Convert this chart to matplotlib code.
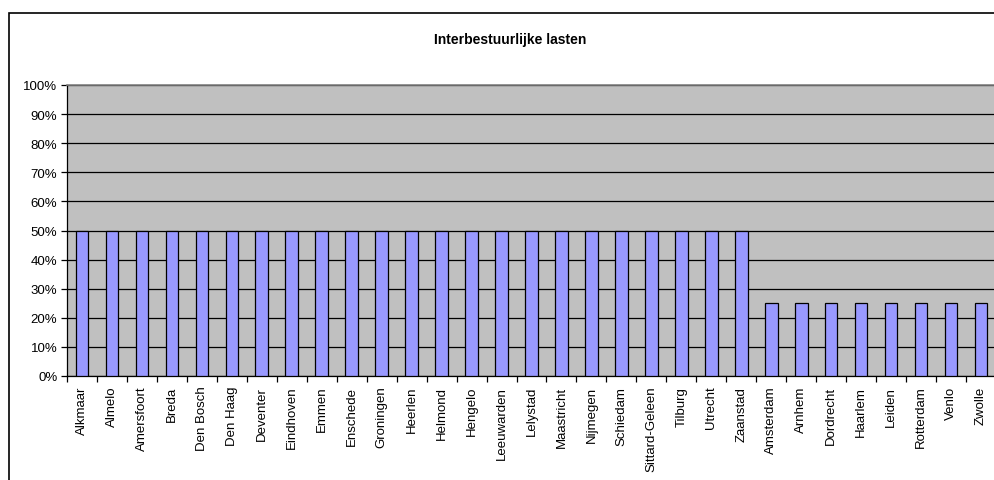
import numpy as np
import matplotlib
matplotlib.use('Agg')
import matplotlib.pyplot as plt
from matplotlib.patches import Rectangle
from matplotlib.ticker import PercentFormatter, FixedLocator

plt.rcParams['font.family'] = ['Liberation Sans', 'DejaVu Sans']

# Data
gemeenten = ['Alkmaar', 'Almelo', 'Amersfoort', 'Breda', 'Den Bosch', 'Den Haag',
             'Deventer', 'Eindhoven', 'Emmen', 'Enschede', 'Groningen', 'Heerlen',
             'Helmond', 'Hengelo', 'Leeuwarden', 'Lelystad', 'Maastricht', 'Nijmegen',
             'Schiedam', 'Sittard-Geleen', 'Tilburg', 'Utrecht', 'Zaanstad',
             'Amsterdam', 'Arnhem', 'Dordrecht', 'Haarlem', 'Leiden', 'Rotterdam',
             'Venlo', 'Zwolle']
aandeel = [0.50] * 23 + [0.25] * 8
y_ticks = [0.0, 0.1, 0.2, 0.3, 0.4, 0.5, 0.6, 0.7, 0.8, 0.9, 1.0]

W, H = 995, 481
fig = plt.figure(figsize=(W / 100, H / 100), dpi=100)

# outer chart frame (runs off the right and bottom edge)
fig.patches.append(Rectangle((9, -50), W + 20, H - 14 + 50, transform=None,
                             fill=False, edgecolor='black', linewidth=1.2))

ax = fig.add_axes([67 / W, (H - 377) / H, (996 - 67) / W, (377 - 86) / H])
ax.set_facecolor('#C0C0C0')

x = np.arange(len(gemeenten))
ax.bar(x, aandeel, width=0.42, color='#9999FF', edgecolor='black', linewidth=0.9, zorder=3)

ax.set_xlim(-0.5, len(gemeenten) - 0.5)
ax.set_ylim(0, 1)
ax.set_yticks(y_ticks)
ax.yaxis.set_major_formatter(PercentFormatter(1.0, decimals=0))
ax.set_axisbelow(True)
ax.grid(axis='y', color='black', linewidth=0.9)

ax.set_xticks(x)
ax.set_xticklabels(gemeenten, rotation=90, fontsize=9.5)
ax.xaxis.set_minor_locator(FixedLocator(np.arange(-0.5, len(gemeenten), 1.0)))
ax.tick_params(axis='x', which='major', length=0, pad=7)
ax.tick_params(axis='x', which='minor', length=4, width=0.9, direction='out')
ax.tick_params(axis='y', length=4, width=0.9, direction='out', labelsize=9.5, pad=3)

for s in ['left', 'bottom']:
    ax.spines[s].set_color('black')
    ax.spines[s].set_linewidth(0.9)
ax.spines['top'].set_color('#808080')
ax.spines['top'].set_linewidth(1.2)
ax.spines['right'].set_visible(False)

fig.text(510 / W, 1 - 40 / H, 'Interbestuurlijke lasten', ha='center', va='center',
         fontsize=10, fontweight='bold')

plt.savefig('out.png', dpi=100)
